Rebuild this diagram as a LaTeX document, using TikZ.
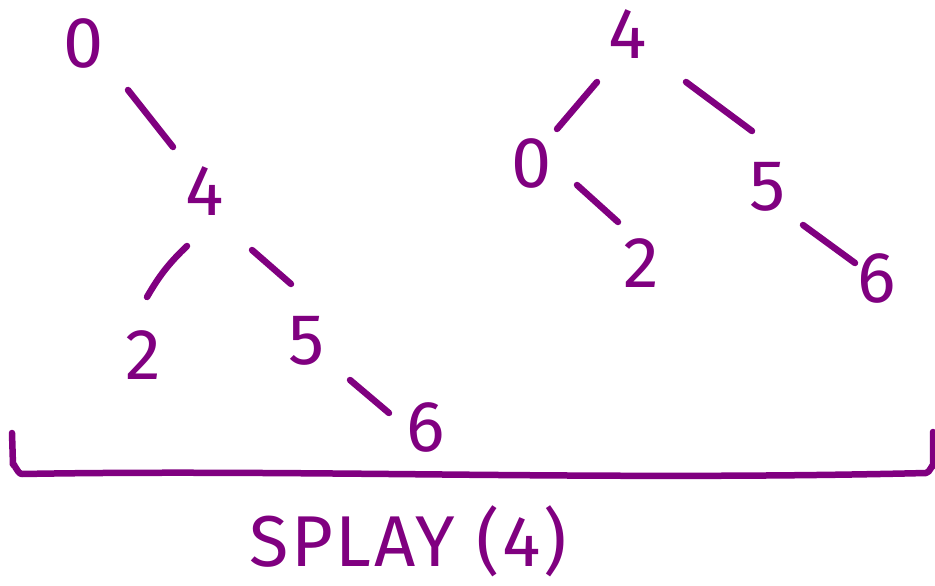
\documentclass[tikz,border=0pt]{standalone}
\usepackage{fontspec}
\setmainfont{Fira Sans}
\definecolor{ink}{RGB}{128,0,128}
\begin{document}
\begin{tikzpicture}[x=1pt,y=-1pt,
  digit/.style={text=ink, inner sep=0pt, font=\fontsize{72}{72}\selectfont},
  edge/.style={draw=ink, line width=6.5pt, line cap=round, line join=round}]
\useasboundingbox[fill=white] (0,0) rectangle (935,586);
% left tree
\node[digit] (L0) at (84,43) {0};
\node[digit] (L4) at (205,191) {4};
\node[digit] (L2) at (143,355) {2};
\node[digit] (L5) at (307,341) {5};
\node[digit] (L6) at (426,427) {6};
\draw[edge] ([shift={(44,47)}]L0.center) -- ([shift={(-32,-44)}]L4.center);
\draw[edge] ([shift={(-18,55)}]L4.center) to[bend right=8] ([shift={(4,-58)}]L2.center);
\draw[edge] ([shift={(47,59)}]L4.center) -- ([shift={(-16,-57)}]L5.center);
\draw[edge] ([shift={(43,39)}]L5.center) -- ([shift={(-37,-14)}]L6.center);
% right tree
\node[digit] (R4) at (628,34) {4};
\node[digit] (R0) at (532,163) {0};
\node[digit] (R2) at (641,263) {2};
\node[digit] (R5) at (768,187) {5};
\node[digit] (R6) at (877,278) {6};
\draw[edge] ([shift={(-31,48)}]R4.center) -- ([shift={(25,-34)}]R0.center);
\draw[edge] ([shift={(58,48)}]R4.center) -- ([shift={(-16,-56)}]R5.center);
\draw[edge] ([shift={(45,22)}]R0.center) -- ([shift={(-23,-41)}]R2.center);
\draw[edge] ([shift={(35,38)}]R5.center) -- ([shift={(-22,-15)}]R6.center);
% bracket
\draw[edge] (12,433) -- (13,465) to[out=90,in=180] (22,474)
  .. controls (300,469) and (600,481) .. (926,473)
  to[out=0,in=90] (933,466) -- (933,432);
% title
\node[digit, anchor=base] (title) at (408,566) {\addfontfeature{LetterSpace=4}SPLAY (4)};
\end{tikzpicture}
\end{document}
